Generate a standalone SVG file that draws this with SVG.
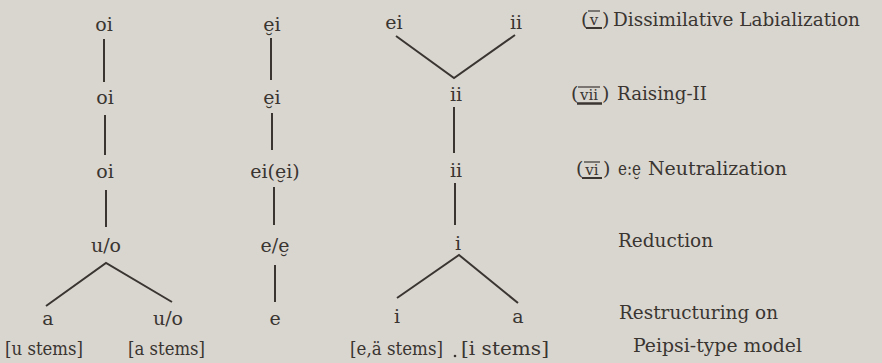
<svg xmlns="http://www.w3.org/2000/svg" width="882" height="363" viewBox="0 0 882 363">
<style>
text{font-family:'DejaVu Serif','Liberation Serif',serif;font-size:19px;fill:#3a3531}
.m{text-anchor:middle}
.c line,.c polyline{stroke:#3a3531;stroke-width:2;fill:none}
.r line{stroke:#3a3531}
.s{font-size:15px}
</style>
<rect width="882" height="363" fill="#d9d6d0"/>
<g class="c" id="connectors">
<line x1="104" y1="39" x2="104" y2="82"/>
<line x1="105" y1="115" x2="105" y2="155"/>
<line x1="106" y1="190" x2="106" y2="227"/>
<polyline points="46,306 106,263 172,302"/>
<line x1="271" y1="38" x2="271" y2="80"/>
<line x1="272" y1="113" x2="272" y2="150"/>
<line x1="274" y1="187" x2="274" y2="225"/>
<line x1="275" y1="265" x2="275" y2="302"/>
<polyline points="396,36 454,78 515,35"/>
<line x1="454" y1="107" x2="454" y2="153"/>
<line x1="455" y1="183" x2="455" y2="225"/>
<polyline points="397,298 459,255 518,303"/>
</g>
<g id="col1">
<text class="m" x="104" y="31">oi</text>
<text class="m" x="105" y="104">oi</text>
<text class="m" x="105" y="178">oi</text>
<text class="m" x="106" y="252">u/o</text>
<text class="m" x="48" y="325">a</text>
<text class="m" x="168" y="325">u/o</text>
<text x="5" y="355" textLength="78" lengthAdjust="spacingAndGlyphs">[u stems]</text>
<text x="128" y="355" textLength="77" lengthAdjust="spacingAndGlyphs">[a stems]</text>
</g>
<g id="col2">
<text class="m" x="272" y="31">e̮i</text>
<text class="m" x="272" y="104">e̮i</text>
<text class="m" x="275" y="178">ei(e̮i)</text>
<text class="m" x="275" y="252">e/e̮</text>
<text class="m" x="275" y="325">e</text>
</g>
<g id="col3">
<text class="m" x="394" y="29">ei</text>
<text class="m" x="516" y="29">ii</text>
<text class="m" x="456" y="101">ii</text>
<text class="m" x="456" y="177">ii</text>
<text class="m" x="458" y="250">i</text>
<text class="m" x="397" y="323">i</text>
<text class="m" x="518" y="323">a</text>
<text x="350" y="355" textLength="93" lengthAdjust="spacingAndGlyphs">[e,ä stems]</text>
<circle cx="455" cy="356" r="1.3" fill="#3a3531"/>
<text x="461" y="355" textLength="88" lengthAdjust="spacingAndGlyphs">[i stems]</text>
</g>
<g id="rules" class="r">
<g id="rule-v">
<text x="581" y="26">(</text>
<text class="m s" x="594" y="25">v</text>
<text x="602" y="26">)</text>
<line x1="588" y1="11" x2="600" y2="11" stroke-width="1.2"/>
<line x1="586" y1="28" x2="602" y2="28" stroke-width="2"/>
<text x="613" y="26" textLength="247" lengthAdjust="spacingAndGlyphs">Dissimilative Labialization</text>
</g>
<g id="rule-vii">
<text x="571" y="100">(</text>
<text class="m s" x="589" y="100">vii</text>
<text x="602" y="100">)</text>
<line x1="578" y1="87" x2="600" y2="87" stroke-width="1.2"/>
<line x1="577" y1="103.5" x2="602" y2="103.5" stroke-width="2.5"/>
<text x="617" y="100" textLength="90" lengthAdjust="spacingAndGlyphs">Raising-II</text>
</g>
<g id="rule-vi">
<text x="576" y="175">(</text>
<text class="m s" x="592" y="175">vi</text>
<text x="603" y="175">)</text>
<line x1="584" y1="162" x2="600" y2="162" stroke-width="1.2"/>
<line x1="582" y1="178" x2="602" y2="178" stroke-width="2"/>
<text x="618" y="175" textLength="23" lengthAdjust="spacingAndGlyphs">e:e̮</text>
<text x="648" y="175" textLength="139" lengthAdjust="spacingAndGlyphs">Neutralization</text>
</g>
<text x="618" y="247" textLength="95" lengthAdjust="spacingAndGlyphs">Reduction</text>
<text x="619" y="319" textLength="159" lengthAdjust="spacingAndGlyphs">Restructuring on</text>
<text x="633" y="352" textLength="169" lengthAdjust="spacingAndGlyphs">Peipsi-type model</text>
</g>
</svg>
